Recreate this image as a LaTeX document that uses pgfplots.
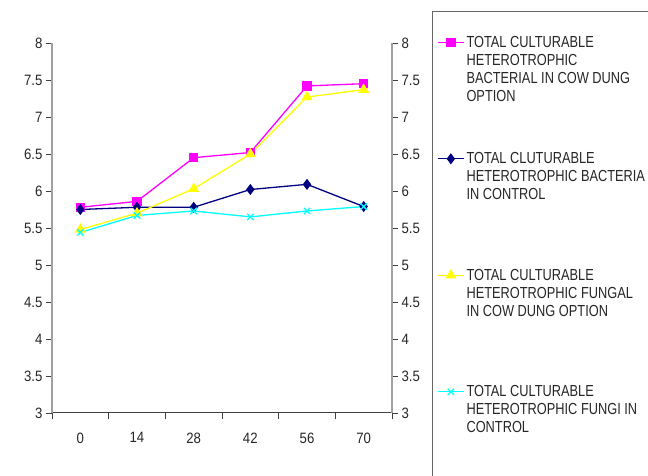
\documentclass[border=0pt]{standalone}
\usepackage{pgfplots}
\pgfplotsset{compat=1.18}
\usepackage{fontspec}
\setmainfont{Liberation Sans}
\newfontfamily\tickfont[FakeStretch=0.88]{Liberation Sans}
\newfontfamily\legfont[FakeStretch=0.8]{Liberation Sans}
\definecolor{mag}{RGB}{255,0,255}
\definecolor{navyc}{RGB}{0,0,128}
\definecolor{yel}{RGB}{255,255,0}
\definecolor{cy}{RGB}{0,255,255}
\definecolor{axgray}{RGB}{160,160,160}
\newcommand{\legbox}[1]{\parbox[b][111pt][t]{180pt}{\raggedright #1}}
\begin{document}
\begin{tikzpicture}[x=1pt,y=1pt]
\useasboundingbox (0,0) rectangle (648,476);
\draw[black!60, line width=0.9pt] (432.5,0) -- (432.5,465) -- (648,465);
\begin{axis}[
  at={(52pt,63pt)}, anchor=south west, scale only axis,
  width=340pt, height=370pt,
  xmin=-0.5, xmax=5.5, ymin=3, ymax=8,
  axis x line*=bottom, axis y line*=left, axis line style={-},
  x axis line style={draw=black!75, line width=1pt},
  y axis line style={draw=axgray, line width=1.5pt},
  xtick={0,1,2,3,4,5}, xticklabels={0,14,28,42,56,70},
  major x tick style={draw=none},
  minor xtick={-0.5,0.5,1.5,2.5,3.5,4.5,5.5},
  minor x tick style={draw=black!75, line width=0.8pt},
  minor tick length=6pt,
  ytick={3,3.5,4,4.5,5,5.5,6,6.5,7,7.5,8},
  yticklabels={3,3.5,4,4.5,5,5.5,6,6.5,7,7.5,8},
  y tick style={draw=black!75, line width=0.8pt},
  major tick length=6pt, tick align=outside,
  ticklabel style={font=\tickfont\fontsize{15}{15}\selectfont, text=black!85},
  xticklabel style={yshift=-10pt},
  legend style={at={(1.1324,1.024)}, anchor=north west, draw=none, fill=none,
    font=\legfont\fontsize{16}{18}\selectfont, text=black!85,
    cells={anchor=base west}, row sep=0pt, inner sep=0pt},
  legend image code/.code={\draw[mark repeat=2,mark phase=2,#1] plot coordinates {(0pt,105pt)(13pt,105pt)(26pt,105pt)};},
]
\addplot[mag, line width=1.3pt, mark=square*, mark size=4pt, mark options={solid}]
  coordinates {(0,5.78)(1,5.86)(2,6.45)(3,6.52)(4,7.42)(5,7.45)};
\addlegendentry{\legbox{TOTAL CULTURABLE\\HETEROTROPHIC\\BACTERIAL IN COW DUNG\\OPTION}}
\addplot[navyc, line width=1.3pt, mark=diamond*, mark size=4.5pt, mark options={solid}]
  coordinates {(0,5.75)(1,5.78)(2,5.78)(3,6.02)(4,6.09)(5,5.79)};
\addlegendentry{\legbox{TOTAL CLUTURABLE\\HETEROTROPHIC BACTERIA\\IN CONTROL}}
\addplot[yel, line width=1.3pt, mark=triangle*, mark size=5pt, mark options={solid}]
  coordinates {(0,5.48)(1,5.70)(2,6.03)(3,6.50)(4,7.27)(5,7.37)};
\addlegendentry{\legbox{TOTAL CULTURABLE\\HETEROTROPHIC FUNGAL\\IN COW DUNG OPTION}}
\addplot[cy, line width=1.3pt, mark=x, mark size=4.5pt, mark options={solid}]
  coordinates {(0,5.44)(1,5.67)(2,5.73)(3,5.65)(4,5.73)(5,5.79)};
\addlegendentry{\legbox{TOTAL CULTURABLE\\HETEROTROPHIC FUNGI IN\\CONTROL}}
\end{axis}
\begin{axis}[
  at={(52pt,63pt)}, anchor=south west, scale only axis,
  width=340pt, height=370pt,
  xmin=-0.5, xmax=5.5, ymin=3, ymax=8,
  axis x line=none, axis y line*=right, axis line style={-},
  y axis line style={draw=axgray, line width=1.5pt},
  ytick={3,3.5,4,4.5,5,5.5,6,6.5,7,7.5,8},
  yticklabels={3,3.5,4,4.5,5,5.5,6,6.5,7,7.5,8},
  y tick style={draw=black!75, line width=0.8pt},
  major tick length=6pt, tick align=outside,
  ticklabel style={font=\tickfont\fontsize{15}{15}\selectfont, text=black!85},
]
\end{axis}
\end{tikzpicture}
\end{document}
